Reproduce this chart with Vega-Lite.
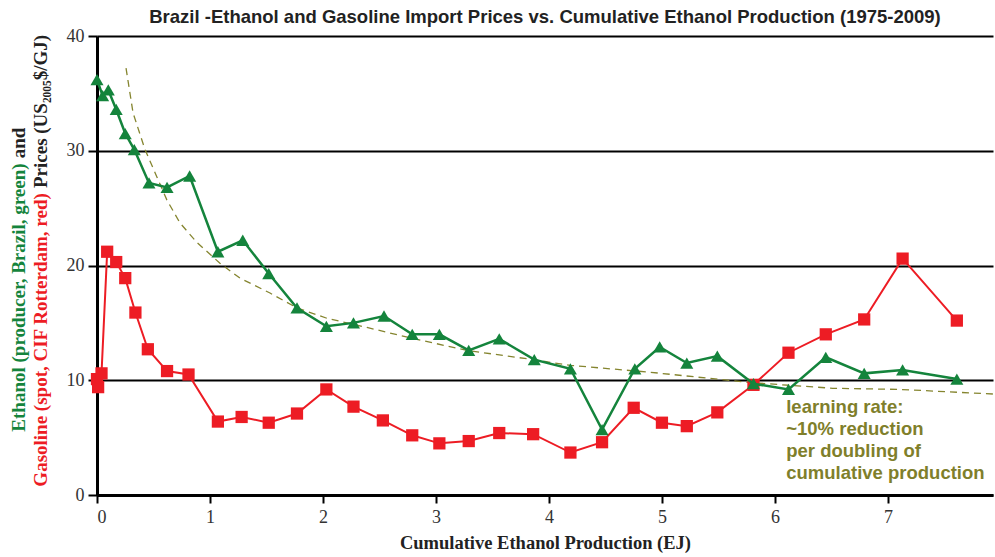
{
  "$schema": "https://vega.github.io/schema/vega-lite/v6.json",
  "width": 896,
  "height": 459,
  "autosize": {"type": "none"},
  "padding": {"left": 97, "top": 36, "right": 2, "bottom": 62},
  "background": "white",
  "title": {
    "text": "Brazil -Ethanol and Gasoline Import Prices  vs. Cumulative Ethanol Production (1975-2009)",
    "font": "Liberation Sans",
    "fontSize": 18.5,
    "fontWeight": "bold",
    "color": "#222222",
    "anchor": "middle",
    "offset": 1
  },
  "config": {"view": {"stroke": null}},
  "datasets": {
    "ethanol": [
      {"x": 0.0, "y": 36.2}, {"x": 0.05, "y": 34.8}, {"x": 0.1, "y": 35.3},
      {"x": 0.17, "y": 33.6}, {"x": 0.25, "y": 31.5}, {"x": 0.33, "y": 30.1},
      {"x": 0.46, "y": 27.2}, {"x": 0.62, "y": 26.8}, {"x": 0.82, "y": 27.8},
      {"x": 1.07, "y": 21.2}, {"x": 1.29, "y": 22.2}, {"x": 1.52, "y": 19.3},
      {"x": 1.77, "y": 16.3}, {"x": 2.03, "y": 14.7}, {"x": 2.27, "y": 15.0},
      {"x": 2.54, "y": 15.6}, {"x": 2.79, "y": 14.0}, {"x": 3.03, "y": 14.0},
      {"x": 3.29, "y": 12.6}, {"x": 3.56, "y": 13.6}, {"x": 3.87, "y": 11.8},
      {"x": 4.19, "y": 11.0}, {"x": 4.47, "y": 5.7}, {"x": 4.76, "y": 11.0},
      {"x": 4.98, "y": 12.9}, {"x": 5.22, "y": 11.5}, {"x": 5.49, "y": 12.1},
      {"x": 5.81, "y": 9.7}, {"x": 6.12, "y": 9.2}, {"x": 6.45, "y": 12.0},
      {"x": 6.79, "y": 10.6}, {"x": 7.13, "y": 10.9}, {"x": 7.61, "y": 10.1}
    ],
    "gasoline": [
      {"x": 0.0, "y": 10.1}, {"x": 0.01, "y": 9.4}, {"x": 0.04, "y": 10.6},
      {"x": 0.09, "y": 21.2}, {"x": 0.17, "y": 20.3}, {"x": 0.25, "y": 18.9},
      {"x": 0.34, "y": 15.9}, {"x": 0.45, "y": 12.7}, {"x": 0.62, "y": 10.8},
      {"x": 0.81, "y": 10.5}, {"x": 1.07, "y": 6.4}, {"x": 1.28, "y": 6.8},
      {"x": 1.52, "y": 6.3}, {"x": 1.77, "y": 7.1}, {"x": 2.03, "y": 9.2},
      {"x": 2.27, "y": 7.7}, {"x": 2.53, "y": 6.5}, {"x": 2.79, "y": 5.2},
      {"x": 3.03, "y": 4.5}, {"x": 3.29, "y": 4.7}, {"x": 3.56, "y": 5.4},
      {"x": 3.86, "y": 5.3}, {"x": 4.19, "y": 3.7}, {"x": 4.47, "y": 4.6},
      {"x": 4.75, "y": 7.6}, {"x": 5.0, "y": 6.3}, {"x": 5.22, "y": 6.0},
      {"x": 5.49, "y": 7.2}, {"x": 5.81, "y": 9.6}, {"x": 6.12, "y": 12.4},
      {"x": 6.45, "y": 14.0}, {"x": 6.79, "y": 15.3}, {"x": 7.13, "y": 20.6},
      {"x": 7.61, "y": 15.2}
    ],
    "curve": [
      {"x": 0.257, "y": 37.2}, {"x": 0.319, "y": 33.3}, {"x": 0.425, "y": 30.1},
      {"x": 0.531, "y": 27.7}, {"x": 0.619, "y": 25.7}, {"x": 0.735, "y": 23.7},
      {"x": 0.885, "y": 22.0}, {"x": 1.088, "y": 20.2}, {"x": 1.265, "y": 18.9},
      {"x": 1.531, "y": 17.6}, {"x": 1.77, "y": 16.3}, {"x": 2.035, "y": 15.4},
      {"x": 2.389, "y": 14.6}, {"x": 2.77, "y": 13.7}, {"x": 3.274, "y": 12.6},
      {"x": 3.858, "y": 11.8}, {"x": 4.186, "y": 11.3}, {"x": 4.894, "y": 10.7},
      {"x": 5.779, "y": 9.8}, {"x": 6.513, "y": 9.3}, {"x": 7.106, "y": 9.2},
      {"x": 7.929, "y": 8.8}
    ]
  },
  "layer": [
    {
      "data": {"name": "curve"},
      "mark": {"type": "line", "color": "#85852f", "strokeWidth": 1.3, "strokeDash": [7, 5]},
      "encoding": {
        "x": {
          "field": "x",
          "type": "quantitative",
          "scale": {"domain": [0, 7.93], "nice": false, "zero": false},
          "axis": {
            "values": [0, 1, 2, 3, 4, 5, 6, 7],
            "format": "d",
            "grid": false,
            "domainColor": "black",
            "domainWidth": 3,
            "tickColor": "black",
            "tickWidth": 2,
            "tickSize": 8,
            "labelFont": "Liberation Serif",
            "labelFontSize": 18,
            "labelColor": "#333333",
            "labelPadding": 5,
            "title": "Cumulative Ethanol Production (EJ)",
            "titleFont": "Liberation Serif",
            "titleFontSize": 18.5,
            "titleFontWeight": "bold",
            "titleColor": "#222222",
            "titlePadding": 7
          }
        },
        "y": {
          "field": "y",
          "type": "quantitative",
          "scale": {"domain": [0, 40], "nice": false},
          "axis": {
            "values": [0, 10, 20, 30, 40],
            "format": "d",
            "grid": true,
            "gridColor": "black",
            "gridWidth": 2,
            "gridOpacity": 1,
            "domainColor": "black",
            "domainWidth": 3,
            "tickColor": "black",
            "tickWidth": 2,
            "tickSize": 9,
            "labelFont": "Liberation Serif",
            "labelFontSize": 18,
            "labelColor": "#333333",
            "labelPadding": 4,
            "title": null
          }
        }
      }
    },
    {
      "data": {"name": "gasoline"},
      "mark": {"type": "line", "color": "#ed1c24", "strokeWidth": 2},
      "encoding": {
        "x": {"field": "x", "type": "quantitative", "title": "Cumulative Ethanol Production (EJ)"},
        "y": {"field": "y", "type": "quantitative", "title": null}
      }
    },
    {
      "data": {"name": "gasoline"},
      "mark": {"type": "point", "shape": "square", "filled": true, "opacity": 1, "color": "#ed1c24", "size": 150},
      "encoding": {
        "x": {"field": "x", "type": "quantitative", "title": "Cumulative Ethanol Production (EJ)"},
        "y": {"field": "y", "type": "quantitative", "title": null}
      }
    },
    {
      "data": {"name": "ethanol"},
      "mark": {"type": "line", "color": "#14843c", "strokeWidth": 2.5},
      "encoding": {
        "x": {"field": "x", "type": "quantitative", "title": "Cumulative Ethanol Production (EJ)"},
        "y": {"field": "y", "type": "quantitative", "title": null}
      }
    },
    {
      "data": {"name": "ethanol"},
      "mark": {"type": "point", "shape": "triangle-up", "filled": true, "opacity": 1, "color": "#14843c", "size": 170},
      "encoding": {
        "x": {"field": "x", "type": "quantitative", "title": "Cumulative Ethanol Production (EJ)"},
        "y": {"field": "y", "type": "quantitative", "title": null}
      }
    },
    {
      "data": {"values": [{"k": 1}]},
      "mark": {"type": "text", "angle": -90, "align": "right", "baseline": "middle", "font": "Liberation Serif", "fontSize": 19, "fontWeight": "bold", "color": "#14843c"},
      "encoding": {"x": {"datum": -0.69}, "y": {"datum": 28.9}, "text": {"value": "Ethanol (producer, Brazil, green)"}}
    },
    {
      "data": {"values": [{"k": 2}]},
      "mark": {"type": "text", "angle": -90, "align": "left", "baseline": "middle", "font": "Liberation Serif", "fontSize": 19, "fontWeight": "bold", "color": "#222222"},
      "encoding": {"x": {"datum": -0.69}, "y": {"datum": 29.35}, "text": {"value": "and"}}
    },
    {
      "data": {"values": [{"k": 3}]},
      "mark": {"type": "text", "angle": -90, "align": "right", "baseline": "middle", "font": "Liberation Serif", "fontSize": 19, "fontWeight": "bold", "color": "#ed1c24"},
      "encoding": {"x": {"datum": -0.5}, "y": {"datum": 26.3}, "text": {"value": "Gasoline (spot, CIF Rotterdam, red)"}}
    },
    {
      "data": {"values": [{"k": 4}]},
      "mark": {"type": "text", "angle": -90, "align": "left", "baseline": "middle", "font": "Liberation Serif", "fontSize": 19, "fontWeight": "bold", "color": "#222222"},
      "encoding": {"x": {"datum": -0.5}, "y": {"datum": 26.75}, "text": {"value": "Prices (US₂₀₀₅$/GJ)"}}
    },
    {
      "data": {"values": [{"k": 5}]},
      "mark": {"type": "text", "align": "left", "baseline": "middle", "lineHeight": 22, "font": "Liberation Sans", "fontSize": 18.5, "fontWeight": "bold", "color": "#7f7f2b"},
      "encoding": {"x": {"datum": 6.1}, "y": {"datum": 7.65}, "text": {"value": ["learning rate:", "~10% reduction", "per doubling of", "cumulative production"]}}
    }
  ]
}
